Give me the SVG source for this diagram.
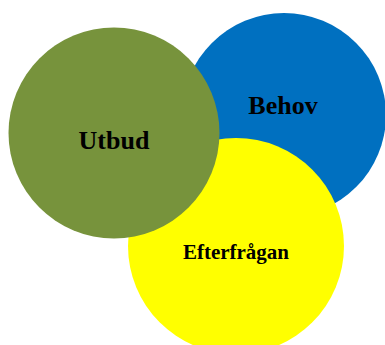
<svg xmlns="http://www.w3.org/2000/svg" width="385" height="345" viewBox="0 0 385 345">
<style>
text{font-family:"Liberation Serif","Times New Roman",serif;font-weight:bold;fill:#000;text-anchor:middle}
</style>
<rect width="385" height="345" fill="#fff"/>
<g id="behov"><circle cx="284" cy="115" r="102" fill="#0070C0"/><text x="283" y="114" font-size="26">Behov</text></g>
<g id="efterfragan"><circle cx="236" cy="246" r="108" fill="#FFFF00"/><text x="236" y="259" font-size="21">Efterfrågan</text></g>
<g id="utbud"><circle cx="114" cy="133" r="105.5" fill="#77933C"/><text x="114" y="149" font-size="26">Utbud</text></g>
<g id="connectors"/>
</svg>
